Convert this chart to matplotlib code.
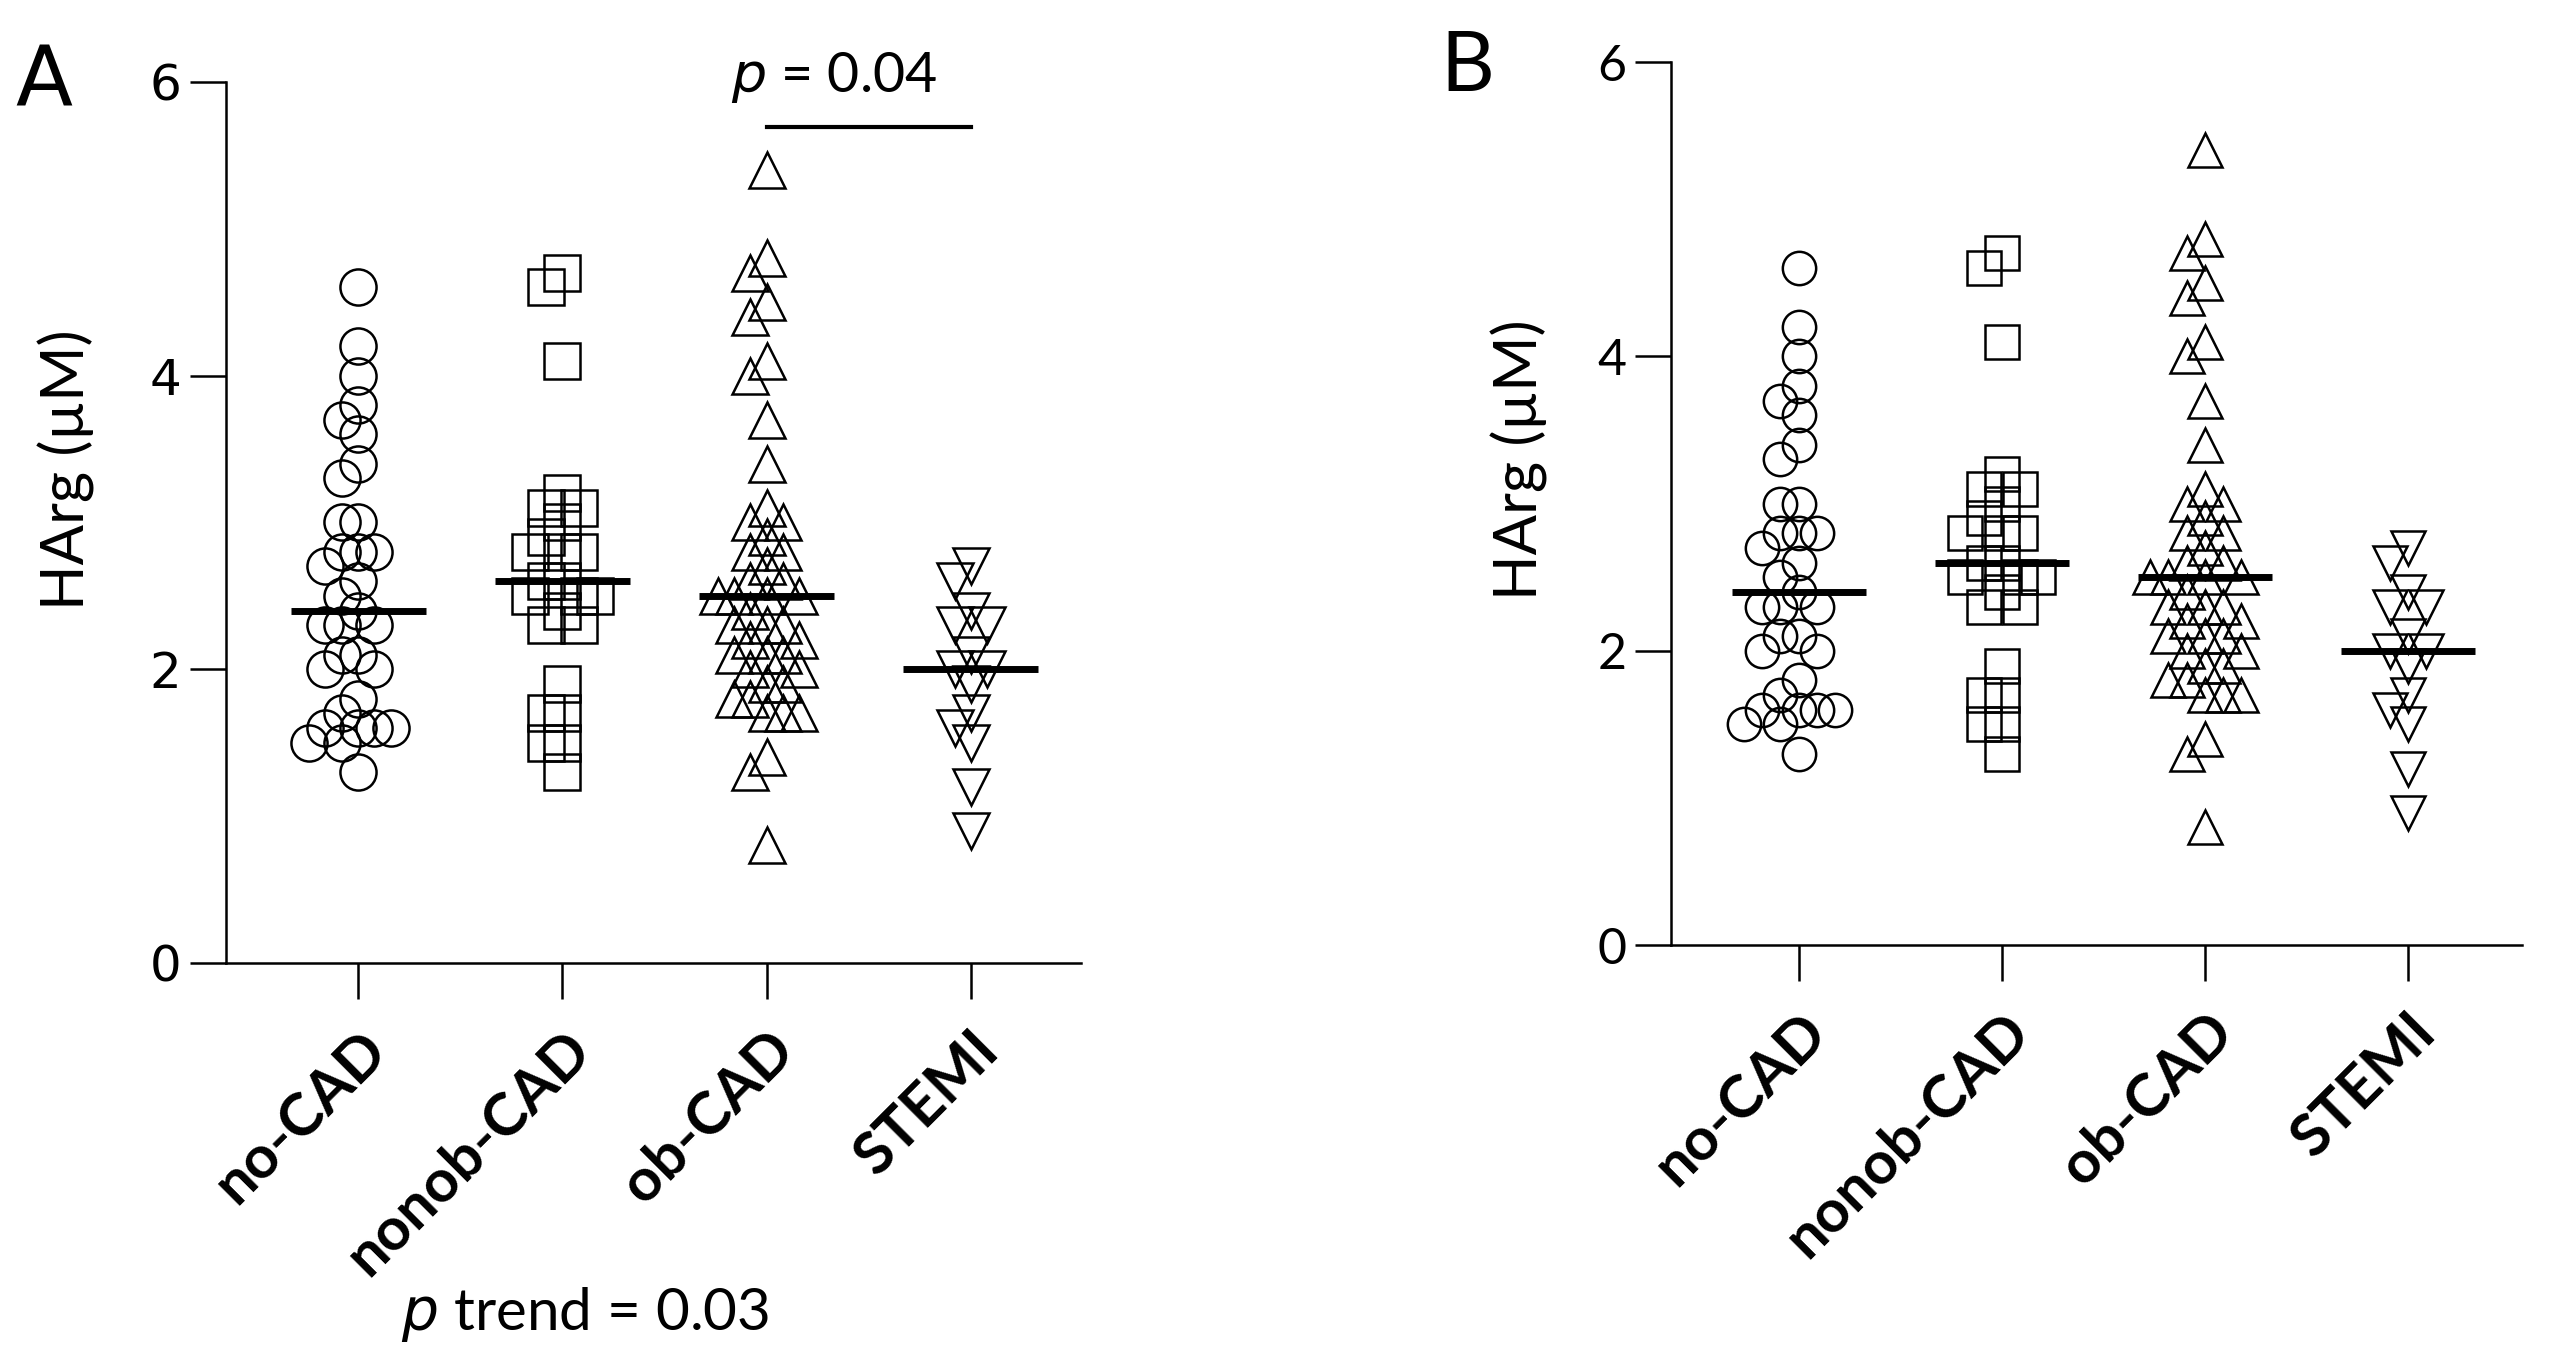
import numpy as np
import matplotlib.pyplot as plt

groups = ['no-CAD', 'nonob-CAD', 'ob-CAD', 'STEMI']
no_cad = [4.6, 4.2, 4.0, 3.8, 3.7, 3.6, 3.4, 3.3, 3.0, 3.0, 2.8, 2.8, 2.8, 2.7, 2.6, 2.5,
          2.4, 2.3, 2.3, 2.3, 2.1, 2.1, 2.0, 2.0, 1.8, 1.7, 1.6, 1.6, 1.6, 1.6, 1.5, 1.5, 1.3]
nonob_cad = [4.7, 4.6, 4.1, 3.2, 3.1, 3.1, 3.0, 2.9, 2.8, 2.8, 2.8, 2.6, 2.6, 2.5, 2.5, 2.5,
             2.4, 2.3, 2.3, 1.9, 1.7, 1.7, 1.5, 1.5, 1.3]
ob_cad = [5.4, 4.8, 4.7, 4.5, 4.4, 4.1, 4.0, 3.7, 3.4, 3.1, 3.0, 3.0, 2.9, 2.8, 2.8, 2.7,
          2.6, 2.6, 2.5, 2.5, 2.5, 2.5, 2.4, 2.3, 2.3, 2.3, 2.2, 2.2, 2.1, 2.1, 2.1, 2.0,
          2.0, 1.9, 1.9, 1.8, 1.8, 1.7, 1.7, 1.7, 1.4, 1.3, 0.8]
stemi = [2.7, 2.6, 2.4, 2.3, 2.3, 2.1, 2.0, 2.0, 1.9, 1.7, 1.6, 1.5, 1.2, 0.9]
data = [no_cad, nonob_cad, ob_cad, stemi]
markers = ['o', 's', '^', 'v']


def swarm(vals, step, ygap):
    # simple symmetric beeswarm, like the prism scatter layout
    order = np.argsort(vals)[::-1]
    offs = np.zeros(len(vals))
    placed = []
    cands = [0]
    for k in range(1, 12):
        cands += [-k * step, k * step]
    for i in order:
        y = vals[i]
        for c in cands:
            if all(abs(y - py) >= ygap or abs(c - po) >= step * 0.99 for py, po in placed):
                offs[i] = c
                break
        placed.append((y, offs[i]))
    return offs


def panel(ax, step, ygap, ms, tickfont, labx, laby):
    for i, vals in enumerate(data):
        v = np.array(vals)
        x = i + swarm(v, step, ygap)
        ax.plot(x, v, linestyle='none', marker=markers[i], ms=ms, mfc='none',
                mec='black', mew=1.8)
        med = np.median(v)
        ax.plot([i - 0.33, i + 0.33], [med, med], color='black', lw=5,
                solid_capstyle='butt')
    ax.set_ylim(0, 6)
    ax.set_yticks([0, 2, 4, 6])
    ax.set_xticks(range(4))
    ax.set_xticklabels(groups, rotation=45, ha='right', va='top', rotation_mode='anchor',
                       fontsize=43, fontweight='bold', family=['Lato', 'DejaVu Sans'])
    for lab in ax.get_yticklabels():
        lab.set_family(tickfont)
    ax.tick_params(axis='y', length=26, width=1.8, labelsize=36, pad=6)
    ax.tick_params(axis='x', length=26, width=1.8, pad=16)
    ax.spines['top'].set_visible(False)
    ax.spines['right'].set_visible(False)
    ax.spines['left'].set_linewidth(1.8)
    ax.spines['bottom'].set_linewidth(1.8)
    ax.set_ylabel('HArg (µM)', fontsize=43, family=['Lato', 'DejaVu Sans'])
    ax.yaxis.set_label_coords(labx, laby)


fig = plt.figure(figsize=(25.68, 13.64), dpi=100)
axA = fig.add_axes([0.088, 0.294, 0.333, 0.646])
axA.set_xlim(-0.647, 3.54)
panel(axA, 0.08, 0.16, 26, ['DejaVu Sans'], -0.153, 0.56)
axA.plot([2, 3], [5.69, 5.69], color='black', lw=3)
axA.text(2.33, 5.84, '$\\it{p}$ = 0.04', ha='center', va='bottom', fontsize=40,
         family=['Lato', 'DejaVu Sans'])
fig.text(0.228, 0.036, '$\\it{p}$ trend = 0.03', ha='center', va='center', fontsize=42,
         family=['Lato', 'DejaVu Sans'])
fig.text(0.006, 0.969, 'A', ha='left', va='top', fontsize=60, family='DejaVu Sans')

axB = fig.add_axes([0.6506, 0.307, 0.3314, 0.6475])
axB.set_xlim(-0.63, 3.56)
panel(axB, 0.09, 0.13, 24, ['Lato'], -0.144, 0.55)
fig.text(0.561, 0.978, 'B', ha='left', va='top', fontsize=60, family='Lato')

fig.savefig('out.png', dpi=100)
